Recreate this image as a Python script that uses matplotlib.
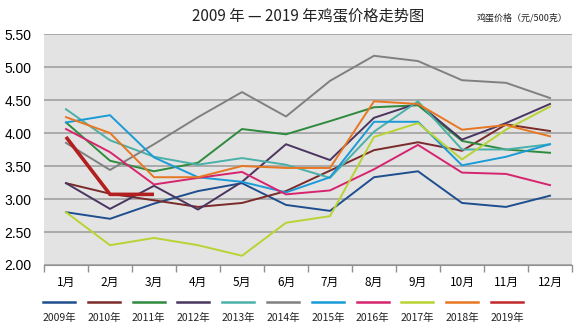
import matplotlib
matplotlib.use('Agg')
import matplotlib.pyplot as plt
import numpy as np

plt.rcParams['font.family'] = ['Noto Sans CJK SC', 'DejaVu Sans']

meses = ['1月','2月','3月','4月','5月','6月','7月','8月','9月','10月','11月','12月']
anos = ['2009年','2010年','2011年','2012年','2013年','2014年',
        '2015年','2016年','2017年','2018年','2019年']

p2009 = [2.80, 2.70, 2.93, 3.12, 3.24, 2.91, 2.82, 3.33, 3.42, 2.94, 2.88, 3.05]
p2010 = [3.24, 3.08, 2.98, 2.88, 2.94, 3.12, 3.43, 3.74, 3.86, 3.73, 4.13, 4.03]
p2011 = [4.16, 3.58, 3.42, 3.55, 4.06, 3.98, 4.18, 4.39, 4.42, 3.88, 3.75, 3.70]
p2012 = [3.24, 2.85, 3.20, 2.84, 3.26, 3.83, 3.59, 4.23, 4.45, 3.90, 4.15, 4.44]
p2013 = [4.36, 3.89, 3.64, 3.52, 3.62, 3.52, 3.32, 4.02, 4.48, 3.75, 3.75, 3.83]
p2014 = [3.85, 3.44, 3.83, 4.24, 4.62, 4.25, 4.79, 5.17, 5.09, 4.80, 4.76, 4.53]
p2015 = [4.16, 4.27, 3.63, 3.33, 3.26, 3.10, 3.33, 4.17, 4.17, 3.51, 3.64, 3.83]
p2016 = [4.06, 3.71, 3.22, 3.32, 3.41, 3.07, 3.13, 3.45, 3.82, 3.40, 3.38, 3.21]
p2017 = [2.80, 2.30, 2.41, 2.30, 2.14, 2.64, 2.74, 3.94, 4.15, 3.60, 4.05, 4.40]
p2018 = [4.24, 4.00, 3.33, 3.33, 3.50, 3.47, 3.47, 4.48, 4.44, 4.05, 4.12, 3.95]
p2019 = [3.94, 3.07, 3.07]

series = [p2009, p2010, p2011, p2012, p2013, p2014, p2015, p2016, p2017, p2018, p2019]
cores = ['#1f4e8f', '#7a2a2a', '#2e8b3e', '#4a3560', '#4bb0a8', '#808080',
         '#1a9bd7', '#d6246e', '#b8d432', '#e87722', '#c0282a']

fig = plt.figure(figsize=(5.8, 3.28), dpi=100)
ax = fig.add_axes([44/580, 1-265/328, 528/580, 231/328])
ax.set_facecolor('#e3e3e3')

for i in range(len(series)):
    y = series[i]
    x = np.arange(len(y))
    if i == 10:
        ax.plot(x, y, color='#b31e1e', lw=2.6, solid_capstyle='butt', zorder=5)
    else:
        ax.plot(x, y, color=cores[i], lw=1.4, zorder=3)

ax.set_xlim(-0.5, 11.5)
ax.set_ylim(2.0, 5.5)
ax.set_yticks(np.arange(2.0, 5.51, 0.5))
ax.set_yticklabels(['%.2f' % v for v in np.arange(2.0, 5.51, 0.5)],
                   fontsize=10, family='Liberation Sans')
ax.yaxis.grid(True, color='#9a9a9a', lw=1.1)
ax.set_axisbelow(True)
ax.tick_params(axis='y', length=0, pad=9)

ax.set_xticks(np.arange(-0.5, 12, 1.0))
ax.set_xticklabels([])
ax.set_xticks(np.arange(12), minor=True)
ax.set_xticklabels(meses, minor=True, fontsize=8.5)
ax.tick_params(axis='x', which='major', length=5, color='#909090', width=1)
ax.tick_params(axis='x', which='minor', length=0, pad=8)

for s in ['top', 'right', 'left']:
    ax.spines[s].set_visible(False)
ax.spines['bottom'].set_color('#909090')

fig.text(0.532, 0.953, '2009 年 — 2019 年鸡蛋价格走势图', fontsize=11,
         ha='center', va='center', color='#222222')
fig.text(0.978, 0.945, '鸡蛋价格（元/500克）', fontsize=6.5, ha='right',
         va='center', color='#222222')

# legenda manual, linha em cima e texto embaixo
for i in range(len(anos)):
    xc = (59 + 44.8*i)/580
    fig.add_artist(plt.Line2D([xc-16/580, xc+16/580], [1-302/328, 1-302/328],
                              color=cores[i], lw=1.8))
    fig.text(xc, 1-318/328, anos[i], fontsize=7.5, ha='center', va='center',
             color='#222222')

plt.savefig('out.png', dpi=100)
